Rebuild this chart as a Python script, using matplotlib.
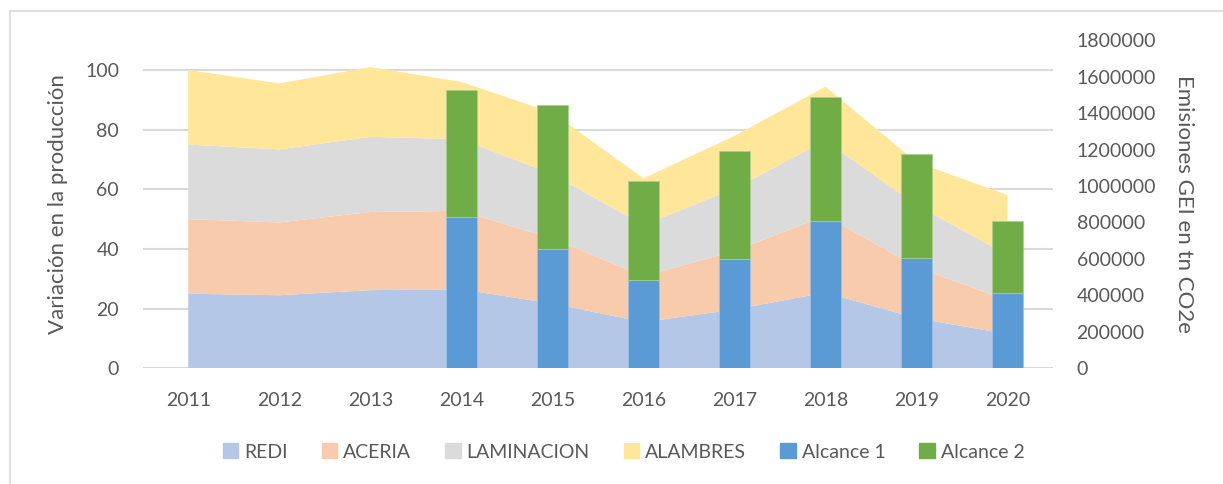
import numpy as np
import matplotlib.pyplot as plt
from matplotlib.patches import Patch, Rectangle
from matplotlib.ticker import StrMethodFormatter

plt.rcParams['font.family'] = ['Lato', 'DejaVu Sans']

# datos
anios = ['2011', '2012', '2013', '2014', '2015', '2016', '2017', '2018', '2019', '2020']
redi = [25.0, 24.5, 26.2, 26.5, 21.7, 15.5, 19.7, 25.4, 16.8, 11.5]
aceria = [25.0, 24.4, 26.2, 26.3, 21.8, 15.4, 19.6, 25.8, 17.1, 11.3]
laminacion = [25.0, 24.5, 25.2, 24.0, 21.6, 17.1, 21.0, 25.1, 20.8, 15.2]
alambres = [25.0, 22.1, 23.4, 19.2, 20.6, 15.7, 17.6, 18.1, 14.4, 20.1]

anios_bar = ['2014', '2015', '2016', '2017', '2018', '2019', '2020']
alcance1 = [830000, 653000, 483000, 601000, 806000, 603000, 411000]
alcance2 = [697000, 793000, 546000, 593000, 684000, 571000, 395000]

c_redi = '#B4C7E7'
c_aceria = '#F8CBAD'
c_lam = '#DBDBDB'
c_alam = '#FFE699'
c_a1 = '#5B9BD5'
c_a2 = '#70AD47'
gris = '#595959'

fig = plt.figure(figsize=(12.23, 4.84), dpi=100)
ax = fig.add_axes([142.7 / 1223, 1 - 368.3 / 484, (1053 - 142.7) / 1223, (368.3 - 40.2) / 484])
ax2 = ax.twinx()

x = np.arange(len(anios))
ax.stackplot(x, redi, aceria, laminacion, alambres,
             colors=[c_redi, c_aceria, c_lam, c_alam], linewidth=0)

xb = np.array([anios.index(a) for a in anios_bar])
ancho = 0.34
ax2.bar(xb, alcance1, ancho, color=c_a1, edgecolor='#9DC3E6', linewidth=0.5)
ax2.bar(xb, alcance2, ancho, bottom=alcance1, color=c_a2, edgecolor='#A9D18E', linewidth=0.5)

ax.set_xlim(-0.5, len(anios) - 0.5)
ax.set_ylim(0, 110)
ax.set_yticks(range(0, 101, 20))
ax2.set_ylim(0, 1800000)
ax2.set_yticks(range(0, 1800001, 200000))
ax2.yaxis.set_major_formatter(StrMethodFormatter('{x:.0f}'))
ax.set_xticks(x)
ax.set_xticklabels(anios)

ax.grid(axis='y', color='#D9D9D9', linewidth=1.5)
ax.set_axisbelow(True)
for a in (ax, ax2):
    for s in a.spines.values():
        s.set_visible(False)
    a.tick_params(length=0, labelsize=14, labelcolor=gris)
ax.tick_params(axis='y', pad=17)
ax.tick_params(axis='x', pad=17)
ax2.tick_params(axis='y', pad=17)

ax.set_ylabel('Variación en la producción', fontsize=16, color=gris, labelpad=12)
ax2.set_ylabel('Emisiones GEI en tn CO2e', fontsize=16, color=gris, rotation=270,
               labelpad=27)

handles = [Patch(color=c_redi, label='REDI'), Patch(color=c_aceria, label='ACERIA'),
           Patch(color=c_lam, label='LAMINACION'), Patch(color=c_alam, label='ALAMBRES'),
           Patch(color=c_a1, label='Alcance 1'), Patch(color=c_a2, label='Alcance 2')]
leg = fig.legend(handles=handles, loc='center', bbox_to_anchor=(0.51, 1 - 452 / 484),
                 ncol=6, frameon=False, fontsize=14, handlelength=0.8, handleheight=0.8,
                 handletextpad=0.3, columnspacing=1.75, labelcolor=gris)

# borde del area del grafico
fig.patches.append(Rectangle((10 / 1223, -0.05), 1.1, 1 - 11.5 / 484 + 0.05,
                             transform=fig.transFigure, fill=False,
                             edgecolor='#D9D9D9', linewidth=1.2))

fig.savefig('out.png', dpi=100)
